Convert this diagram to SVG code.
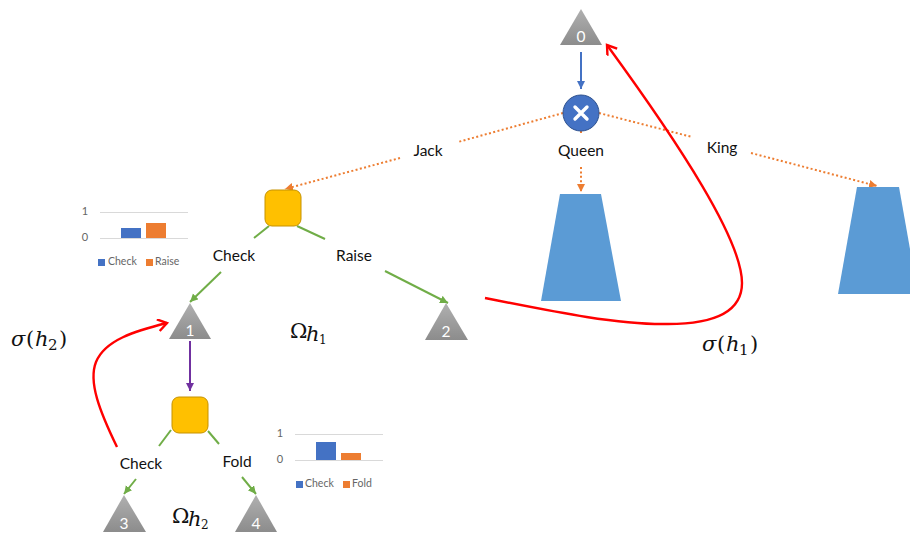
<svg xmlns="http://www.w3.org/2000/svg" width="910" height="534" viewBox="0 0 910 534">
<style>
text{font-family:"Lato","Open Sans","Liberation Sans",sans-serif}
.lb{font-size:15.500px;fill:#111;text-anchor:middle}
.tn{font-size:15.500px;fill:#fff;text-anchor:middle}
.tk{font-size:11px;fill:#666;text-anchor:middle}
.lg{font-size:10.500px;fill:#666}
.m{font-family:"DejaVu Serif","Liberation Serif",serif;font-size:21px;fill:#111}
.mi{font-style:italic}
.tri{fill:url(#g)}
.sq{fill:#ffc000;stroke:#c69200;stroke-width:1}
.tr{fill:#5b9bd5}
.grn{stroke:#70ad47;stroke-width:2;fill:none}
.org{stroke:#ed7d31;stroke-width:2;stroke-dasharray:2 2.4;fill:none}
.red{stroke:#ff0000;stroke-width:2.400px;fill:none}
.grid{stroke:#d9d9d9;stroke-width:1}
</style>
<defs>
<linearGradient id="g" x1="0" y1="0" x2="0" y2="1"><stop offset="0" stop-color="#b0b0b0"/><stop offset="1" stop-color="#8c8c8c"/></linearGradient>
<marker id="ag" markerUnits="userSpaceOnUse" markerWidth="10" markerHeight="10" refX="8" refY="4" orient="auto"><path d="M0 0L8 4L0 8z" fill="#70ad47"/></marker>
<marker id="ao" markerUnits="userSpaceOnUse" markerWidth="10" markerHeight="10" refX="8" refY="4" orient="auto"><path d="M0 0L8 4L0 8z" fill="#ed7d31"/></marker>
<marker id="ab" markerUnits="userSpaceOnUse" markerWidth="10" markerHeight="10" refX="8" refY="4" orient="auto"><path d="M0 0L8 4L0 8z" fill="#4472c4"/></marker>
<marker id="ap" markerUnits="userSpaceOnUse" markerWidth="10" markerHeight="10" refX="8" refY="4" orient="auto"><path d="M0 0L8 4L0 8z" fill="#7030a0"/></marker>
<marker id="ar" markerUnits="userSpaceOnUse" markerWidth="14" markerHeight="14" refX="10" refY="6" orient="auto"><path d="M1 0L10 6L1 12" fill="none" stroke="#ff0000" stroke-width="2.400"/></marker>
</defs>
<g id="connectors">
<path d="M581 52V89" stroke="#4472c4" stroke-width="2" fill="none" marker-end="url(#ab)"/>
<path d="M190 341V391" stroke="#7030a0" stroke-width="2" fill="none" marker-end="url(#ap)"/>
<path class="org" d="M563 113L458 142"/>
<path class="org" d="M400 158L285 189" marker-end="url(#ao)"/>
<path class="org" d="M599 113L692 137"/>
<path class="org" d="M751 153L877 186" marker-end="url(#ao)"/>
<path class="org" d="M581 131V134"/>
<path class="org" d="M581 167V192" marker-end="url(#ao)"/>
<path class="grn" d="M269 226L254 238"/>
<path class="grn" d="M221 272L190 302" marker-end="url(#ag)"/>
<path class="grn" d="M297 226L325 239"/>
<path class="grn" d="M385 271L448 303" marker-end="url(#ag)"/>
<path class="grn" d="M171 430L159 446"/>
<path class="grn" d="M208 431L219 444"/>
<path class="grn" d="M136 479L124 494" marker-end="url(#ag)"/>
<path class="grn" d="M242 477L256 494" marker-end="url(#ag)"/>
<path class="red" d="M485 298C560 313 620 325 668 324C715 324 742 312 742 283C742 240 680 145 607 45" marker-end="url(#ar)"/>
<path class="red" d="M117 447C100 412 88 382 96 362C105 340 135 331 167 323" marker-end="url(#ar)"/>
</g>
<g id="node0"><path class="tri" d="M581 9L602 45H560z"/><text class="tn" x="581" y="42">0</text></g>
<g id="chance"><circle cx="581" cy="113" r="18" fill="#4472c4" stroke="#2f528f"/><path d="M575 107L587 119M587 107L575 119" stroke="#fff" stroke-width="3.400" stroke-linecap="round"/></g>
<g id="jack"><text class="lb" x="428" y="156">Jack</text></g>
<g id="queen"><text class="lb" x="581" y="156">Queen</text></g>
<g id="king"><text class="lb" x="722" y="153">King</text></g>
<g id="tree-queen"><path class="tr" d="M560 194H601L621 301H541z"/></g>
<g id="tree-king"><path class="tr" d="M857 187H899L918 294H838z"/></g>
<g id="info1"><rect class="sq" x="265" y="190" width="36" height="36" rx="7"/></g>
<g id="check1"><text class="lb" x="234" y="261">Check</text></g>
<g id="raise1"><text class="lb" x="354" y="261">Raise</text></g>
<g id="node1"><path class="tri" d="M190 303L211 339H169z"/><text class="tn" x="190" y="336">1</text></g>
<g id="node2"><path class="tri" d="M446 303L468 340H425z"/><text class="tn" x="446" y="337">2</text></g>
<g id="info2"><rect class="sq" x="172" y="397" width="36" height="36" rx="7"/></g>
<g id="check2"><text class="lb" x="141" y="469">Check</text></g>
<g id="fold2"><text class="lb" x="237" y="467">Fold</text></g>
<g id="node3"><path class="tri" d="M124 495L146 532H103z"/><text class="tn" x="124" y="529">3</text></g>
<g id="node4"><path class="tri" d="M256 495L277 532H235z"/><text class="tn" x="256" y="529">4</text></g>
<g id="chart1">
<path class="grid" d="M100 212.500H188M100 238.500H188"/>
<text class="tk" x="85" y="215">1</text><text class="tk" x="85" y="241">0</text>
<rect x="121" y="228" width="20" height="10" fill="#4472c4"/><rect x="146" y="223" width="20" height="15" fill="#ed7d31"/>
<rect x="98" y="259" width="7" height="7" fill="#4472c4"/><text class="lg" x="108" y="265">Check</text>
<rect x="146" y="259" width="7" height="7" fill="#ed7d31"/><text class="lg" x="155" y="265">Raise</text>
</g>
<g id="chart2">
<path class="grid" d="M295 434.500H383M295 460.500H383"/>
<text class="tk" x="280" y="437">1</text><text class="tk" x="280" y="463">0</text>
<rect x="316" y="442" width="20" height="18" fill="#4472c4"/><rect x="341" y="453" width="20" height="7" fill="#ed7d31"/>
<rect x="296" y="481" width="7" height="7" fill="#4472c4"/><text class="lg" x="305" y="487">Check</text>
<rect x="343" y="481" width="7" height="7" fill="#ed7d31"/><text class="lg" x="352" y="487">Fold</text>
</g>
<g id="labels">
<text class="m" x="11" y="346"><tspan class="mi">σ</tspan><tspan x="26">(</tspan><tspan class="mi" x="35">h</tspan><tspan font-size="15" x="48" dy="4">2</tspan><tspan x="59" dy="-4">)</tspan></text>
<text class="m" x="702" y="351"><tspan class="mi">σ</tspan><tspan x="717">(</tspan><tspan class="mi" x="726">h</tspan><tspan font-size="15" x="739" dy="4">1</tspan><tspan x="750" dy="-4">)</tspan></text>
<text class="m" x="290" y="338">Ω<tspan class="mi" x="306" dy="3">h</tspan><tspan font-size="12" x="319" dy="3">1</tspan></text>
<text class="m" x="172" y="523">Ω<tspan class="mi" x="188" dy="3">h</tspan><tspan font-size="12" x="201" dy="3">2</tspan></text>
</g>
</svg>
